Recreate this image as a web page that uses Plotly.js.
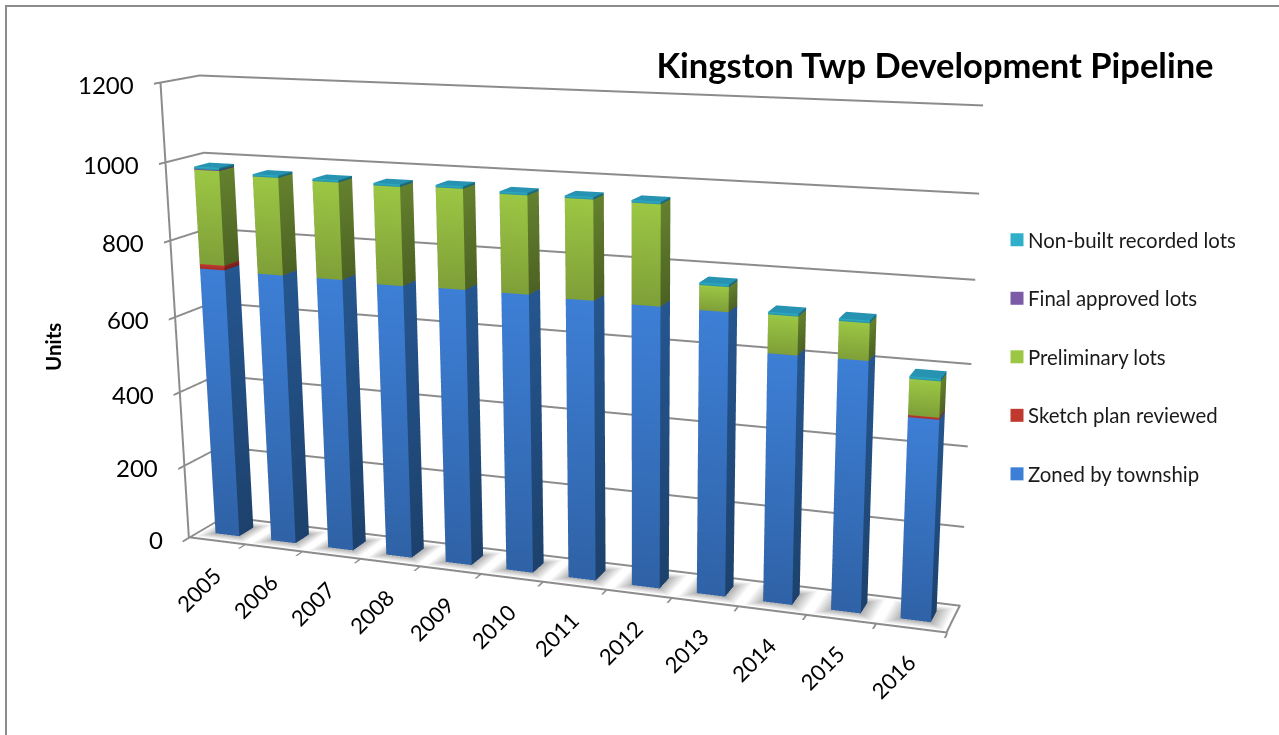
<!DOCTYPE html>
<html><head><meta charset="utf-8"><script src="https://cdn.plot.ly/plotly-3.0.1.min.js"></script>
<style>html,body{margin:0;padding:0;background:#fff;overflow:hidden;width:1279px;height:735px}
#w{position:absolute;left:0;top:0;width:1279px;height:735px;overflow:hidden}
#c{position:absolute;left:-737px;top:-424px;width:2752px;height:1583px}</style></head>
<body><div id="w"><div id="c"></div></div><script>
const years=[2005,2006,2007,2008,2009,2010,2011,2012,2013,2014,2015,2016];
const zoned=[720,718,718,714,716,716,713,711,710,619,620,495];
const sketch=[12,0,0,0,0,0,0,0,0,0,0,5];
const preliminary=[244,249,246,248,250,243,245,245,60,93,89,86];
const finalApproved=[2,0,0,0,0,0,0,0,0,0,0,0];
const nonBuilt=[6,6,6,6,6,6,6,6,6,6,6,6];
const zTicks=[0,200,400,600,800,1000,1200];
const seriesNames=['Zoned by township','Sketch plan reviewed','Preliminary lots','Final approved lots','Non-built recorded lots'];
const seriesValues=[zoned,sketch,preliminary,finalApproved,nonBuilt];
const front=['#3d7fd6','#c0392f','#9cc744','#7b5aa6','#2fb0c8'];
const frontLow=['#2f62a6','#a52e28','#7f9f38','#60468a','#258ea3'];
const sideHi=['#25568f','#8a2520','#64812e','#4c3672','#1d7a8d'];
const sideLo=['#1d416c','#701d19','#4c6223','#3a2958','#165f6e'];
const topc=['#4a8fe0','#d0504a','#aad050','#8a6ab5','#2793b3'];
const hw=0.215,hd=0.2;
const CW=2752,CH=1583,OX=737,OY=424;
const px=x=>(x+OX)/CW, py=y=>1-(y+OY)/CH;
const lit={ambient:1,diffuse:0,specular:0,fresnel:0,roughness:1};
function quadInto(m,p,c){const n=m.x.length;p.forEach((q,t)=>{m.x.push(q[0]);m.y.push(q[1]);m.z.push(q[2]);m.vertexcolor.push(c[t]);});
  m.i.push(n,n);m.j.push(n+1,n+2);m.k.push(n+2,n+3);}
function build(si){
  const m={type:'mesh3d',x:[],y:[],z:[],i:[],j:[],k:[],vertexcolor:[],name:seriesNames[si],
    showlegend:false,flatshading:true,hoverinfo:'skip',lighting:lit};
  years.forEach((yr,i)=>{
    let b=0;for(let s=0;s<si;s++)b+=seriesValues[s][i];
    const t=b+seriesValues[si][i];
    const x0=yr-hw,x1=yr+hw,y0=-hd,y1=hd;
    const lo=frontLow[si],hi=front[si],sl=sideLo[si],sh=sideHi[si],tc=topc[si];
    quadInto(m,[[x0,y0,b],[x1,y0,b],[x1,y0,t],[x0,y0,t]],[lo,lo,hi,hi]);
    quadInto(m,[[x1,y0,b],[x1,y1,b],[x1,y1,t],[x1,y0,t]],[sl,sl,sh,sh]);
    quadInto(m,[[x0,y1,b],[x1,y1,b],[x1,y1,t],[x0,y1,t]],[sl,sl,sh,sh]);
    quadInto(m,[[x0,y0,b],[x0,y1,b],[x0,y1,t],[x0,y0,t]],[sl,sl,sh,sh]);
    quadInto(m,[[x0,y0,t],[x1,y0,t],[x1,y1,t],[x0,y1,t]],[tc,tc,tc,tc]);
  });
  return m;
}
function shadows(){
  const m={type:'mesh3d',x:[],y:[],z:[],i:[],j:[],k:[],vertexcolor:[],showlegend:false,flatshading:true,hoverinfo:'skip',lighting:lit};
  const g='#b0b0b0',w='#ffffff',ox=0.44,oy=0.42;
  years.forEach(yr=>{
    const a=[[yr-hw,-hd],[yr+hw,-hd],[yr+hw,hd],[yr-hw,hd]];
    const b=[[yr-ox,-oy],[yr+ox,-oy],[yr+ox,oy],[yr-ox,oy]];
    for(let q=0;q<4;q++){const r=(q+1)%4;
      quadInto(m,[[a[q][0],a[q][1],0],[b[q][0],b[q][1],0],[b[r][0],b[r][1],0],[a[r][0],a[r][1],0]],[g,w,w,g]);}
  });
  return m;
}
const traces=[shadows()].concat(seriesNames.map((_,i)=>build(i)));
[4,3,2,1,0].forEach(i=>traces.push({type:'scatter',mode:'markers',x:[null],y:[null],name:seriesNames[i],legendgroup:seriesNames[i],showlegend:true,
  marker:{symbol:'square',size:13,color:front[i]},xaxis:'x',yaxis:'y'}));
traces.push({type:'scatter3d',mode:'lines',x:[2004.5,2016.49,2016.49],y:[-0.49,-0.49,0.49],z:[1,1,1],
  line:{color:'#8c8c8c',width:4},showlegend:false,hoverinfo:'skip'});
const fontK={family:'Lato',color:'#000'};
const th=19*Math.PI/180,ph=14.5*Math.PI/180,D=4.66;
const cen={x:0.196,y:0.07,z:-0.071};
const eye={x:cen.x+D*Math.cos(ph)*Math.sin(th),y:cen.y-D*Math.cos(ph)*Math.cos(th),z:cen.z+D*Math.sin(ph)};
const sceneAnn=years.map(y=>({x:y,y:-0.5,z:0,text:String(y),showarrow:false,textangle:-45,
  font:Object.assign({size:22},fontK),xshift:-18,yshift:-48})).concat(
  zTicks.map(v=>({x:2004.5,y:-0.5,z:v,text:String(v),showarrow:false,xanchor:'right',
  font:Object.assign({size:24},fontK),xshift:-24,yshift:-2})));
const layout={width:CW,height:CH,margin:{l:0,r:0,t:0,b:0},paper_bgcolor:'#fff',plot_bgcolor:'rgba(0,0,0,0)',
  title:{text:'<b>Kingston Twp Development Pipeline</b>',font:{family:'Lato',size:34.5,color:'#000'},
    x:px(935),xanchor:'center',xref:'paper',y:py(66),yref:'paper',yanchor:'middle'},
  font:fontK,
  xaxis:{visible:false,domain:[0,0.001]},yaxis:{visible:false,domain:[0,0.001]},
  legend:{x:px(988),y:py(220),xanchor:'left',yanchor:'top',traceorder:'grouped',tracegroupgap:29,
    font:{family:'Lato',size:20.4,color:'#1a1a1a'},bgcolor:'rgba(0,0,0,0)'},
  scene:{domain:{x:[0,1],y:[0,1]},
    camera:{eye:eye,center:cen,up:{x:0,y:0,z:1},projection:{type:'perspective'}},
    aspectmode:'manual',aspectratio:{x:2,y:0.18,z:1.19},
    xaxis:{range:[2004.5,2016.5],tickvals:[2004.5].concat(years.map(y=>y+0.5)),showticklabels:false,showgrid:false,zeroline:false,showline:false,ticks:'outside',ticklen:18,tickcolor:'#8c8c8c',tickwidth:4,title:{text:''},showspikes:false,showbackground:false},
    yaxis:{range:[-0.5,0.5],showticklabels:false,showgrid:false,zeroline:false,showline:false,ticks:'',title:{text:''},showspikes:false,showbackground:false},
    zaxis:{range:[0,1200],tickvals:zTicks,showticklabels:false,showgrid:true,gridcolor:'#8c8c8c',gridwidth:4,zeroline:false,showline:true,linecolor:'#8c8c8c',linewidth:4,
      ticks:'outside',ticklen:16,tickcolor:'#8c8c8c',tickwidth:4,title:{text:''},showspikes:false,showbackground:false},
    annotations:sceneAnn},
  annotations:[{xref:'paper',yref:'paper',x:px(53),y:py(347),xanchor:'center',yanchor:'middle',text:'<b>Units</b>',textangle:-90,showarrow:false,font:{family:'Lato',size:20.5,color:'#000'}}],
  shapes:[{type:'rect',xref:'paper',yref:'paper',x0:px(6),x1:px(1400),y0:py(6),y1:py(800),line:{color:'#8c8c8c',width:2}}]
};
Plotly.newPlot('c',traces,layout,{displayModeBar:false}).then(gd=>{
  gd.querySelectorAll('.legendpoints path').forEach(p=>p.setAttribute('transform','translate(29,0)'));
});
</script></body></html>
